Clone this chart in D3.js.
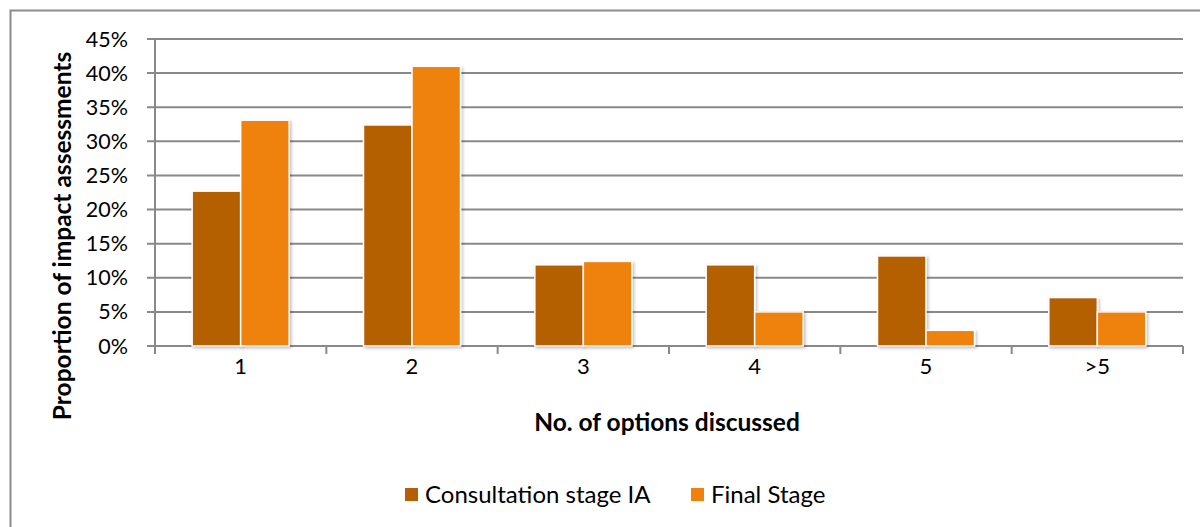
<!DOCTYPE html>
<html>
<head>
<meta charset="utf-8">
<script src="https://cdn.jsdelivr.net/npm/d3@7"></script>
<style>
  body { margin: 0; background: #fff; }
  text { font-family: Lato, "Open Sans", sans-serif; fill: #000; }
</style>
</head>
<body>
<svg id="chart" width="1200" height="527"></svg>
<script>
var categories = ["1", "2", "3", "4", "5", ">5"];
var seriesNames = ["Consultation stage IA", "Final Stage"];
var consultation = [0.227, 0.324, 0.119, 0.119, 0.132, 0.071];
var finalStage = [0.331, 0.410, 0.124, 0.050, 0.023, 0.050];
var yTicks = [0, 0.05, 0.10, 0.15, 0.20, 0.25, 0.30, 0.35, 0.40, 0.45];
var colors = ["#B45F06", "#EF810C"];

var rows = categories.map(function(c, i){ return {cat: c, values: [consultation[i], finalStage[i]]} })

var svg = d3.select("#chart")
var plotL = 155, plotR = 1183, plotT = 39, plotB = 346;

// marco del grafico
svg.append("rect").attr("x", 10.5).attr("y", 10.5).attr("width", 1220).attr("height", 600)
   .attr("fill", "none").attr("stroke", "#8c8c8c").attr("stroke-width", 2)

var defs = svg.append("defs")
var f = defs.append("filter").attr("id", "sh").attr("x", "-20%").attr("y", "-20%").attr("width", "150%").attr("height", "150%")
f.append("feDropShadow").attr("dx", 1.5).attr("dy", 1.5).attr("stdDeviation", 1.5).attr("flood-color", "#000").attr("flood-opacity", 0.25)

var x = d3.scaleBand().domain(categories).range([plotL, plotR]).padding(0)
var x1 = d3.scaleBand().domain([0, 1]).range([0, x.bandwidth()]).paddingInner(0).paddingOuter(0.766)
var y = d3.scaleLinear().domain([0, 0.45]).range([plotB, plotT])

// lineas de la rejilla
svg.append("g").selectAll("line").data(yTicks).enter().append("line")
   .attr("x1", plotL - 8).attr("x2", plotR)
   .attr("y1", function(d){ return y(d) }).attr("y2", function(d){ return y(d) })
   .attr("stroke", "#898989").attr("stroke-width", 2)

// eje y
svg.append("line").attr("x1", plotL).attr("x2", plotL).attr("y1", plotT).attr("y2", plotB)
   .attr("stroke", "#898989").attr("stroke-width", 2)

svg.append("g").selectAll("text").data(yTicks).enter().append("text")
   .attr("x", 128).attr("y", function(d){ return y(d) })
   .attr("dy", "0.35em").attr("text-anchor", "end").attr("font-size", 21.5)
   .text(function(d){ return d3.format(".0%")(d) })

// eje x con marcas entre categorias
var ticksX = categories.map(function(c){ return x(c) }).concat([plotR])
svg.append("g").selectAll("line").data(ticksX).enter().append("line")
   .attr("x1", function(d){ return d }).attr("x2", function(d){ return d })
   .attr("y1", plotB).attr("y2", plotB + 8)
   .attr("stroke", "#898989").attr("stroke-width", 2)

svg.append("g").selectAll("text").data(categories).enter().append("text")
   .attr("x", function(d){ return x(d) + x.bandwidth()/2 }).attr("y", 366)
   .attr("dy", "0.35em").attr("text-anchor", "middle").attr("font-size", 22)
   .text(function(d){ return d })

// barras
var groups = svg.append("g").selectAll("g.cat").data(rows).enter().append("g")
   .attr("class", "cat").attr("transform", function(d){ return "translate(" + x(d.cat) + ",0)" })

groups.selectAll("rect").data(function(d){ return d.values }).enter().append("rect")
   .attr("x", function(d, i){ return x1(i) })
   .attr("y", function(d){ return y(d) })
   .attr("width", x1.bandwidth())
   .attr("height", function(d){ return plotB - y(d) })
   .attr("fill", function(d, i){ return colors[i] })
   .attr("stroke", "#fff").attr("stroke-width", 1.5)
   .attr("filter", "url(#sh)")

// titulos
svg.append("text").attr("transform", "translate(62,236) rotate(-90)")
   .attr("dy", "0.35em").attr("text-anchor", "middle").attr("font-size", 24.5).attr("font-weight", "bold")
   .text("Proportion of impact assessments")

svg.append("text").attr("x", 667).attr("y", 422).attr("dy", "0.35em")
   .attr("text-anchor", "middle").attr("font-size", 24.5).attr("font-weight", "bold")
   .text("No. of options discussed")

// leyenda
var legX = [405, 691]
var leg = svg.append("g").selectAll("g").data(seriesNames).enter().append("g")
   .attr("transform", function(d, i){ return "translate(" + legX[i] + ",488)" })
leg.append("rect").attr("width", 13).attr("height", 13)
   .attr("fill", function(d, i){ return colors[i] })
leg.append("text").attr("x", 20).attr("y", 6.5).attr("dy", "0.35em").attr("font-size", 24)
   .text(function(d){ return d })
</script>
</body>
</html>
